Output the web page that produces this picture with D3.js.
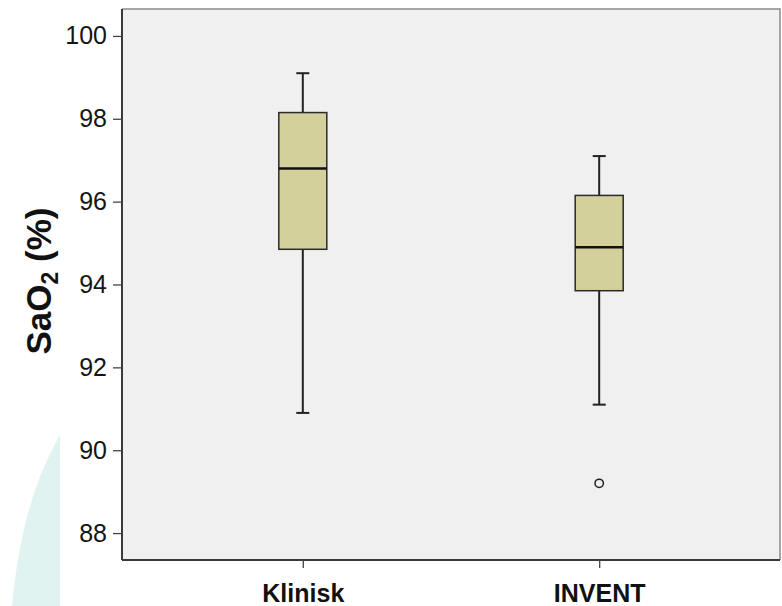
<!DOCTYPE html>
<html>
<head>
<meta charset="utf-8">
<script src="https://cdn.jsdelivr.net/npm/d3@7"></script>
<style>
  body { margin: 0; background: #fff; }
  svg { display: block; font-family: "Liberation Sans", Arial, sans-serif; }
</style>
</head>
<body>
<div id="chart"></div>
<script>
// data
var groups = ["Klinisk", "INVENT"];
var whiskerLow = [90.9, 91.1];
var q1 = [94.85, 93.85];
var median = [96.8, 94.9];
var q3 = [98.15, 96.15];
var whiskerHigh = [99.1, 97.1];
var outliers = [[], [89.2]];
var yTicks = [88, 90, 92, 94, 96, 98, 100];

var wdim = 782, hdim = 606;
var margin = {top: 9, right: 2, bottom: 46, left: 122};
var width = wdim - margin.left - margin.right,
    height = hdim - margin.top - margin.bottom;

var svg = d3.select("#chart").append("svg")
  .attr("width", wdim)
  .attr("height", hdim);

// faint watermark at lower left
svg.append("path")
  .attr("d", "M60,435 C40,470 20,520 12,606 L60,606 Z")
  .attr("fill", "#e1f3f1");

var g = svg.append("g")
  .attr("transform", "translate(" + margin.left + "," + margin.top + ")");

var x = d3.scalePoint().domain(groups).range([0, width]).padding(0.61);
var y = d3.scaleLinear().domain([87.35, 100.65]).range([height, 0]);

// plot background
g.append("rect")
  .attr("width", width)
  .attr("height", height)
  .attr("fill", "#f0f0f0");

// top / right frame
g.append("path")
  .attr("d", "M0,0 H" + width + " V" + height)
  .attr("fill", "none")
  .attr("stroke", "#8a8a8a")
  .attr("stroke-width", 1.5);

// axes
var yAxis = g.append("g")
  .call(d3.axisLeft(y).tickValues(yTicks).tickSize(9).tickPadding(6).tickFormat(d3.format("d")));
var xAxis = g.append("g")
  .attr("transform", "translate(0," + height + ")")
  .call(d3.axisBottom(x).tickSize(8).tickPadding(16));

[yAxis, xAxis].forEach(function(a){
  a.select(".domain").attr("stroke", "#3a3a3a").attr("stroke-width", 2);
  a.selectAll(".tick line").attr("stroke", "#444").attr("stroke-width", 1.3);
});
yAxis.select(".domain").attr("d", "M0,0V" + height);
xAxis.select(".domain").attr("d", "M0,0H" + width);
yAxis.selectAll(".tick text")
  .attr("font-size", "25px").attr("fill", "#151515");
xAxis.selectAll(".tick text")
  .attr("font-size", "25px").attr("font-weight", "bold").attr("fill", "#111");

// boxes
var boxW = 48, capW = 13;
var boxes = g.selectAll(".box").data(groups).enter()
  .append("g").attr("class", "box")
  .attr("transform", function(d){ return "translate(" + x(d) + ",0)"; });

boxes.append("line")
  .attr("x1", 0).attr("x2", 0)
  .attr("y1", function(d, i){ return y(whiskerHigh[i]); })
  .attr("y2", function(d, i){ return y(whiskerLow[i]); })
  .attr("stroke", "#222").attr("stroke-width", 2);

boxes.selectAll(".cap").data(function(d, i){ return [whiskerLow[i], whiskerHigh[i]]; })
  .enter().append("line")
  .attr("x1", -capW/2).attr("x2", capW/2)
  .attr("y1", function(v){ return y(v); })
  .attr("y2", function(v){ return y(v); })
  .attr("stroke", "#222").attr("stroke-width", 2);

boxes.append("rect")
  .attr("x", -boxW/2)
  .attr("width", boxW)
  .attr("y", function(d, i){ return y(q3[i]); })
  .attr("height", function(d, i){ return y(q1[i]) - y(q3[i]); })
  .attr("fill", "#d4d09c")
  .attr("stroke", "#2a2a2a").attr("stroke-width", 1.5);

boxes.append("line")
  .attr("x1", -boxW/2).attr("x2", boxW/2)
  .attr("y1", function(d, i){ return y(median[i]); })
  .attr("y2", function(d, i){ return y(median[i]); })
  .attr("stroke", "#111").attr("stroke-width", 2.5);

boxes.selectAll(".out").data(function(d, i){ return outliers[i]; })
  .enter().append("circle")
  .attr("cx", 0)
  .attr("cy", function(v){ return y(v); })
  .attr("r", 4.2)
  .attr("fill", "none")
  .attr("stroke", "#222").attr("stroke-width", 1.5);

// y label
var yl = svg.append("text")
  .attr("transform", "translate(51," + 281 + ") rotate(-90)")
  .attr("text-anchor", "middle")
  .attr("font-size", "35px")
  .attr("font-weight", "bold")
  .attr("fill", "#111");
yl.append("tspan").text("SaO");
yl.append("tspan").attr("font-size", "23px").attr("dy", 7).text("2");
yl.append("tspan").attr("dy", -7).text(" (%)");
</script>
</body>
</html>
